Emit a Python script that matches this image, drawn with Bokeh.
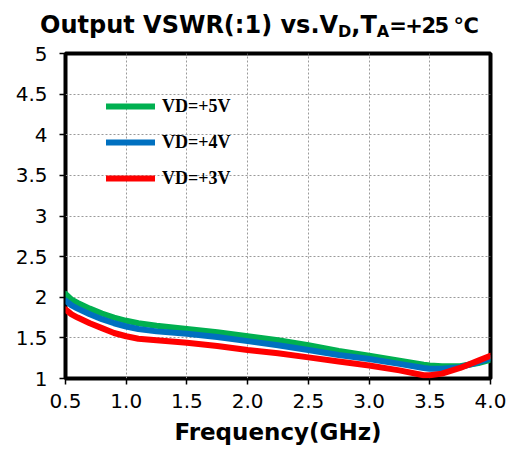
from bokeh.plotting import figure
from bokeh.layouts import column
from bokeh.models import (Legend, LegendItem, Div, FixedTicker,
                          NumeralTickFormatter, Range1d)
from bokeh.embed import file_html
from bokeh.resources import INLINE

# ---- data ----
freq = [0.5, 0.55, 0.6, 0.7, 0.8, 0.9, 1.0, 1.1, 1.25, 1.5, 1.75, 2.0, 2.25, 2.5,
        2.75, 3.0, 3.25, 3.45, 3.5, 3.6, 3.75, 3.9, 4.0]
vswr_5v = [2.04, 1.97, 1.93, 1.86, 1.80, 1.75, 1.71, 1.68, 1.65, 1.61, 1.57, 1.52, 1.47, 1.41,
           1.34, 1.28, 1.22, 1.17, 1.16, 1.15, 1.15, 1.19, 1.23]
vswr_4v = [1.96, 1.90, 1.86, 1.79, 1.73, 1.68, 1.64, 1.61, 1.58, 1.55, 1.51, 1.46, 1.41, 1.35,
           1.29, 1.24, 1.18, 1.13, 1.12, 1.12, 1.14, 1.20, 1.25]
vswr_3v = [1.85, 1.79, 1.75, 1.68, 1.62, 1.56, 1.52, 1.49, 1.47, 1.44, 1.40, 1.35, 1.31, 1.26,
           1.21, 1.16, 1.10, 1.04, 1.04, 1.06, 1.13, 1.22, 1.28]

series_labels = ["VD=+5V", "VD=+4V", "VD=+3V"]
series_colors = ["#00B050", "#0070C0", "#FF0000"]

x_ticks = [0.5, 1.0, 1.5, 2.0, 2.5, 3.0, 3.5, 4.0]
y_ticks = [1, 1.5, 2, 2.5, 3, 3.5, 4, 4.5, 5]

title_main, title_sub1, title_mid, title_sub2, title_tail = "Output VSWR(:1) vs.V", "D", ",T", "A", "=+25 \u2103"
x_title = "Frequency(GHz)"

W = 507
TOP_H, MAIN_H = 41, 419

# ---- title (with real subscripts) ----
sub_style = "font-size:16px;position:relative;top:4px;"
title_html = (
    f'<span>{title_main}</span>'
    f'<span style="{sub_style}">{title_sub1}</span>'
    f'<span>{title_mid}</span>'
    f'<span style="{sub_style}">{title_sub2}</span>'
    f'<span style="font-size:21px;letter-spacing:-1.5px;">{title_tail}</span>'
)
title_div = Div(text=title_html, width=W, height=TOP_H, margin=0,
                styles={"font-family": "DejaVu Sans", "font-weight": "bold",
                        "font-size": "24px", "color": "black", "white-space": "nowrap",
                        "line-height": "28px", "padding-left": "40px", "padding-top": "11px",
                        "box-sizing": "border-box", "background-color": "white"})

# ---- main chart ----
p = figure(width=W, height=MAIN_H, output_backend="svg", toolbar_location=None,
           x_range=Range1d(0.5, 4.0), y_range=Range1d(1, 5),
           min_border_left=65, min_border_right=17, min_border_top=12, min_border_bottom=82)
p.title.visible = False
p.title.text_font_size = "1px"
p.title.standoff = 0
p.background_fill_color = "white"
p.border_fill_color = "white"
p.outline_line_color = "black"
p.outline_line_width = 4

for ax in (p.xaxis[0], p.yaxis[0]):
    ax.axis_line_color = None
    ax.major_tick_in = 0
    ax.major_tick_out = 6
    ax.major_tick_line_color = "black"
    ax.major_tick_line_width = 1.5
    ax.minor_tick_line_color = None
    ax.major_label_text_font = "DejaVu Sans"
    ax.major_label_text_font_size = "20px"
    ax.major_label_text_color = "black"

p.xaxis.ticker = FixedTicker(ticks=x_ticks)
p.yaxis.ticker = FixedTicker(ticks=y_ticks)
p.xaxis.formatter = NumeralTickFormatter(format="0.0")
p.yaxis.formatter = NumeralTickFormatter(format="0.[0]")
p.xaxis.major_label_standoff = 9
p.yaxis.major_label_standoff = 12

p.xaxis.axis_label = x_title
p.xaxis.axis_label_text_font = "DejaVu Sans"
p.xaxis.axis_label_text_font_size = "23px"
p.xaxis.axis_label_text_font_style = "bold"
p.xaxis.axis_label_text_color = "black"
p.xaxis.axis_label_standoff = 8

p.xgrid.grid_line_color = "#9A9A9A"
p.ygrid.grid_line_color = "#9A9A9A"
p.xgrid.grid_line_dash = "2 2"
p.ygrid.grid_line_dash = "2 2"
p.xgrid.grid_line_width = 1
p.ygrid.grid_line_width = 1

items = []
for ys, lab, col in zip([vswr_5v, vswr_4v, vswr_3v], series_labels, series_colors):
    r = p.line(freq, ys, line_color=col, line_width=6, line_cap="round", line_join="round")
    items.append(LegendItem(label=lab, renderers=[r]))

legend = Legend(items=items, location="top_left", orientation="vertical",
                margin=41, padding=0, spacing=12, glyph_width=49, glyph_height=24,
                label_height=24, label_standoff=7,
                label_text_font="Liberation Serif", label_text_font_size="18px",
                label_text_font_style="bold", label_text_color="black",
                background_fill_alpha=0, border_line_alpha=0)
p.add_layout(legend)

layout = column(title_div, p, spacing=0)
open("out.html", "w").write(file_html(layout, INLINE))
